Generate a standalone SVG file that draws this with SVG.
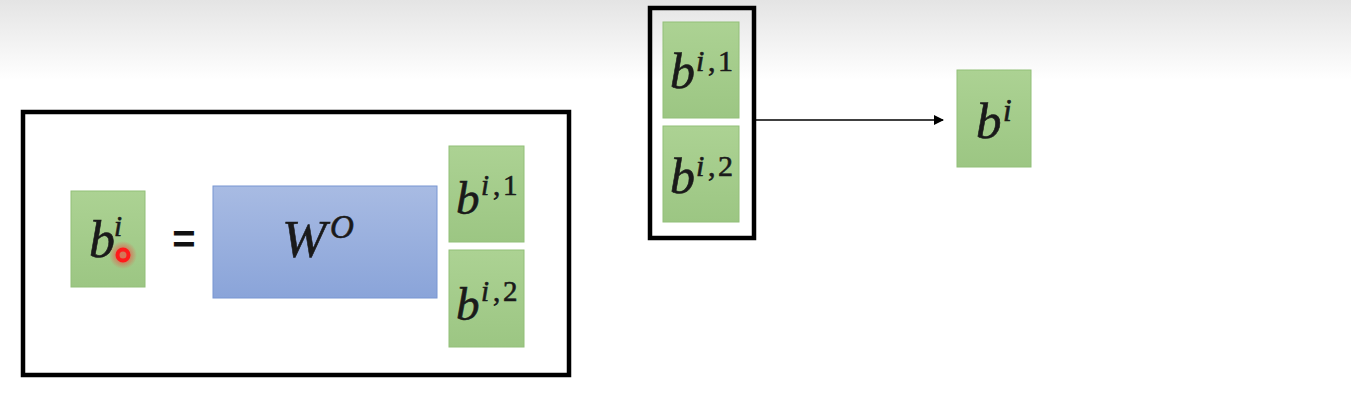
<svg xmlns="http://www.w3.org/2000/svg" width="1351" height="407" viewBox="0 0 1351 407">
<style>
.math{font-family:"Liberation Serif","Times New Roman",serif;font-style:italic;fill:#1a1a1a;stroke:#1a1a1a;stroke-width:0.6}
.up{font-style:normal}
.frame{fill:none;stroke:#000;stroke-width:4.5}
.g{fill:url(#gg);stroke:#92bf79;stroke-width:1}
</style>
<defs>
<linearGradient id="bg" x1="0" y1="0" x2="0" y2="1">
<stop offset="0" stop-color="#e4e4e4"/><stop offset="1" stop-color="#ffffff"/>
</linearGradient>
<linearGradient id="gg" x1="0" y1="0" x2="0" y2="1">
<stop offset="0" stop-color="#acd293"/><stop offset="1" stop-color="#9cc683"/>
</linearGradient>
<linearGradient id="bb" x1="0" y1="0" x2="0" y2="1">
<stop offset="0" stop-color="#a8bbe3"/><stop offset="1" stop-color="#8aa4d9"/>
</linearGradient>
<radialGradient id="glow">
<stop offset="0.4" stop-color="#ff3030" stop-opacity="0.55"/><stop offset="1" stop-color="#ff3030" stop-opacity="0"/>
</radialGradient>
<marker id="ah" markerWidth="10" markerHeight="10" refX="9" refY="5" orient="auto" markerUnits="userSpaceOnUse">
<path d="M0,0 L10,5 L0,10 z" fill="#000"/>
</marker>
</defs>
<rect x="0" y="0" width="1351" height="407" fill="#fff"/>
<rect x="0" y="0" width="1351" height="80" fill="url(#bg)"/>

<g id="left-frame"><rect class="frame" x="23" y="112" width="546" height="263"/></g>

<g id="node-bi-left">
<rect class="g" x="71" y="191" width="74" height="96"/>
<text class="math" font-size="52"><tspan x="89" y="257">b</tspan><tspan x="114" y="236" font-size="29">i</tspan></text>
<circle cx="123" cy="255" r="14" fill="url(#glow)"/>
<circle cx="123" cy="255" r="5.5" fill="none" stroke="#ff1a1a" stroke-width="4"/>
</g>

<g id="equals"><text x="184" y="253" font-family="Liberation Sans,Arial,sans-serif" font-weight="bold" font-size="40" text-anchor="middle" fill="#111">=</text></g>

<g id="node-wo">
<rect x="213" y="186" width="224" height="112" fill="url(#bb)" stroke="#7896d2" stroke-width="1"/>
<text class="math" font-size="53"><tspan x="282" y="257">W</tspan><tspan x="330" y="238" font-size="33">O</tspan></text>
</g>

<g id="node-bi1-left">
<rect class="g" x="449" y="146" width="75" height="96"/>
<text class="math" font-size="47"><tspan x="456" y="214">b</tspan><tspan font-size="29"><tspan x="481" y="195">i</tspan><tspan class="up" x="493" y="195">,</tspan><tspan class="up" x="503" y="195">1</tspan></tspan></text>
</g>
<g id="node-bi2-left">
<rect class="g" x="449" y="250" width="75" height="97"/>
<text class="math" font-size="47"><tspan x="456" y="320">b</tspan><tspan font-size="29"><tspan x="481" y="301">i</tspan><tspan class="up" x="493" y="301">,</tspan><tspan class="up" x="503" y="301">2</tspan></tspan></text>
</g>

<g id="right-frame"><rect class="frame" x="650" y="8" width="104" height="230"/></g>

<g id="node-bi1-right">
<rect class="g" x="663" y="22" width="76" height="96"/>
<text class="math" font-size="50"><tspan x="670" y="88">b</tspan><tspan font-size="30"><tspan x="696" y="71">i</tspan><tspan class="up" x="708" y="71">,</tspan><tspan class="up" x="718" y="71">1</tspan></tspan></text>
</g>
<g id="node-bi2-right">
<rect class="g" x="663" y="126" width="76" height="96"/>
<text class="math" font-size="50"><tspan x="670" y="193">b</tspan><tspan font-size="30"><tspan x="696" y="176">i</tspan><tspan class="up" x="708" y="176">,</tspan><tspan class="up" x="718" y="176">2</tspan></tspan></text>
</g>

<g id="connectors">
<line x1="756" y1="120" x2="943" y2="120" stroke="#000" stroke-width="1.5" marker-end="url(#ah)"/>
</g>

<g id="node-bi-right">
<rect class="g" x="957" y="70" width="74" height="97"/>
<text class="math" font-size="51"><tspan x="976" y="138">b</tspan><tspan x="1003" y="121" font-size="31">i</tspan></text>
</g>
</svg>
